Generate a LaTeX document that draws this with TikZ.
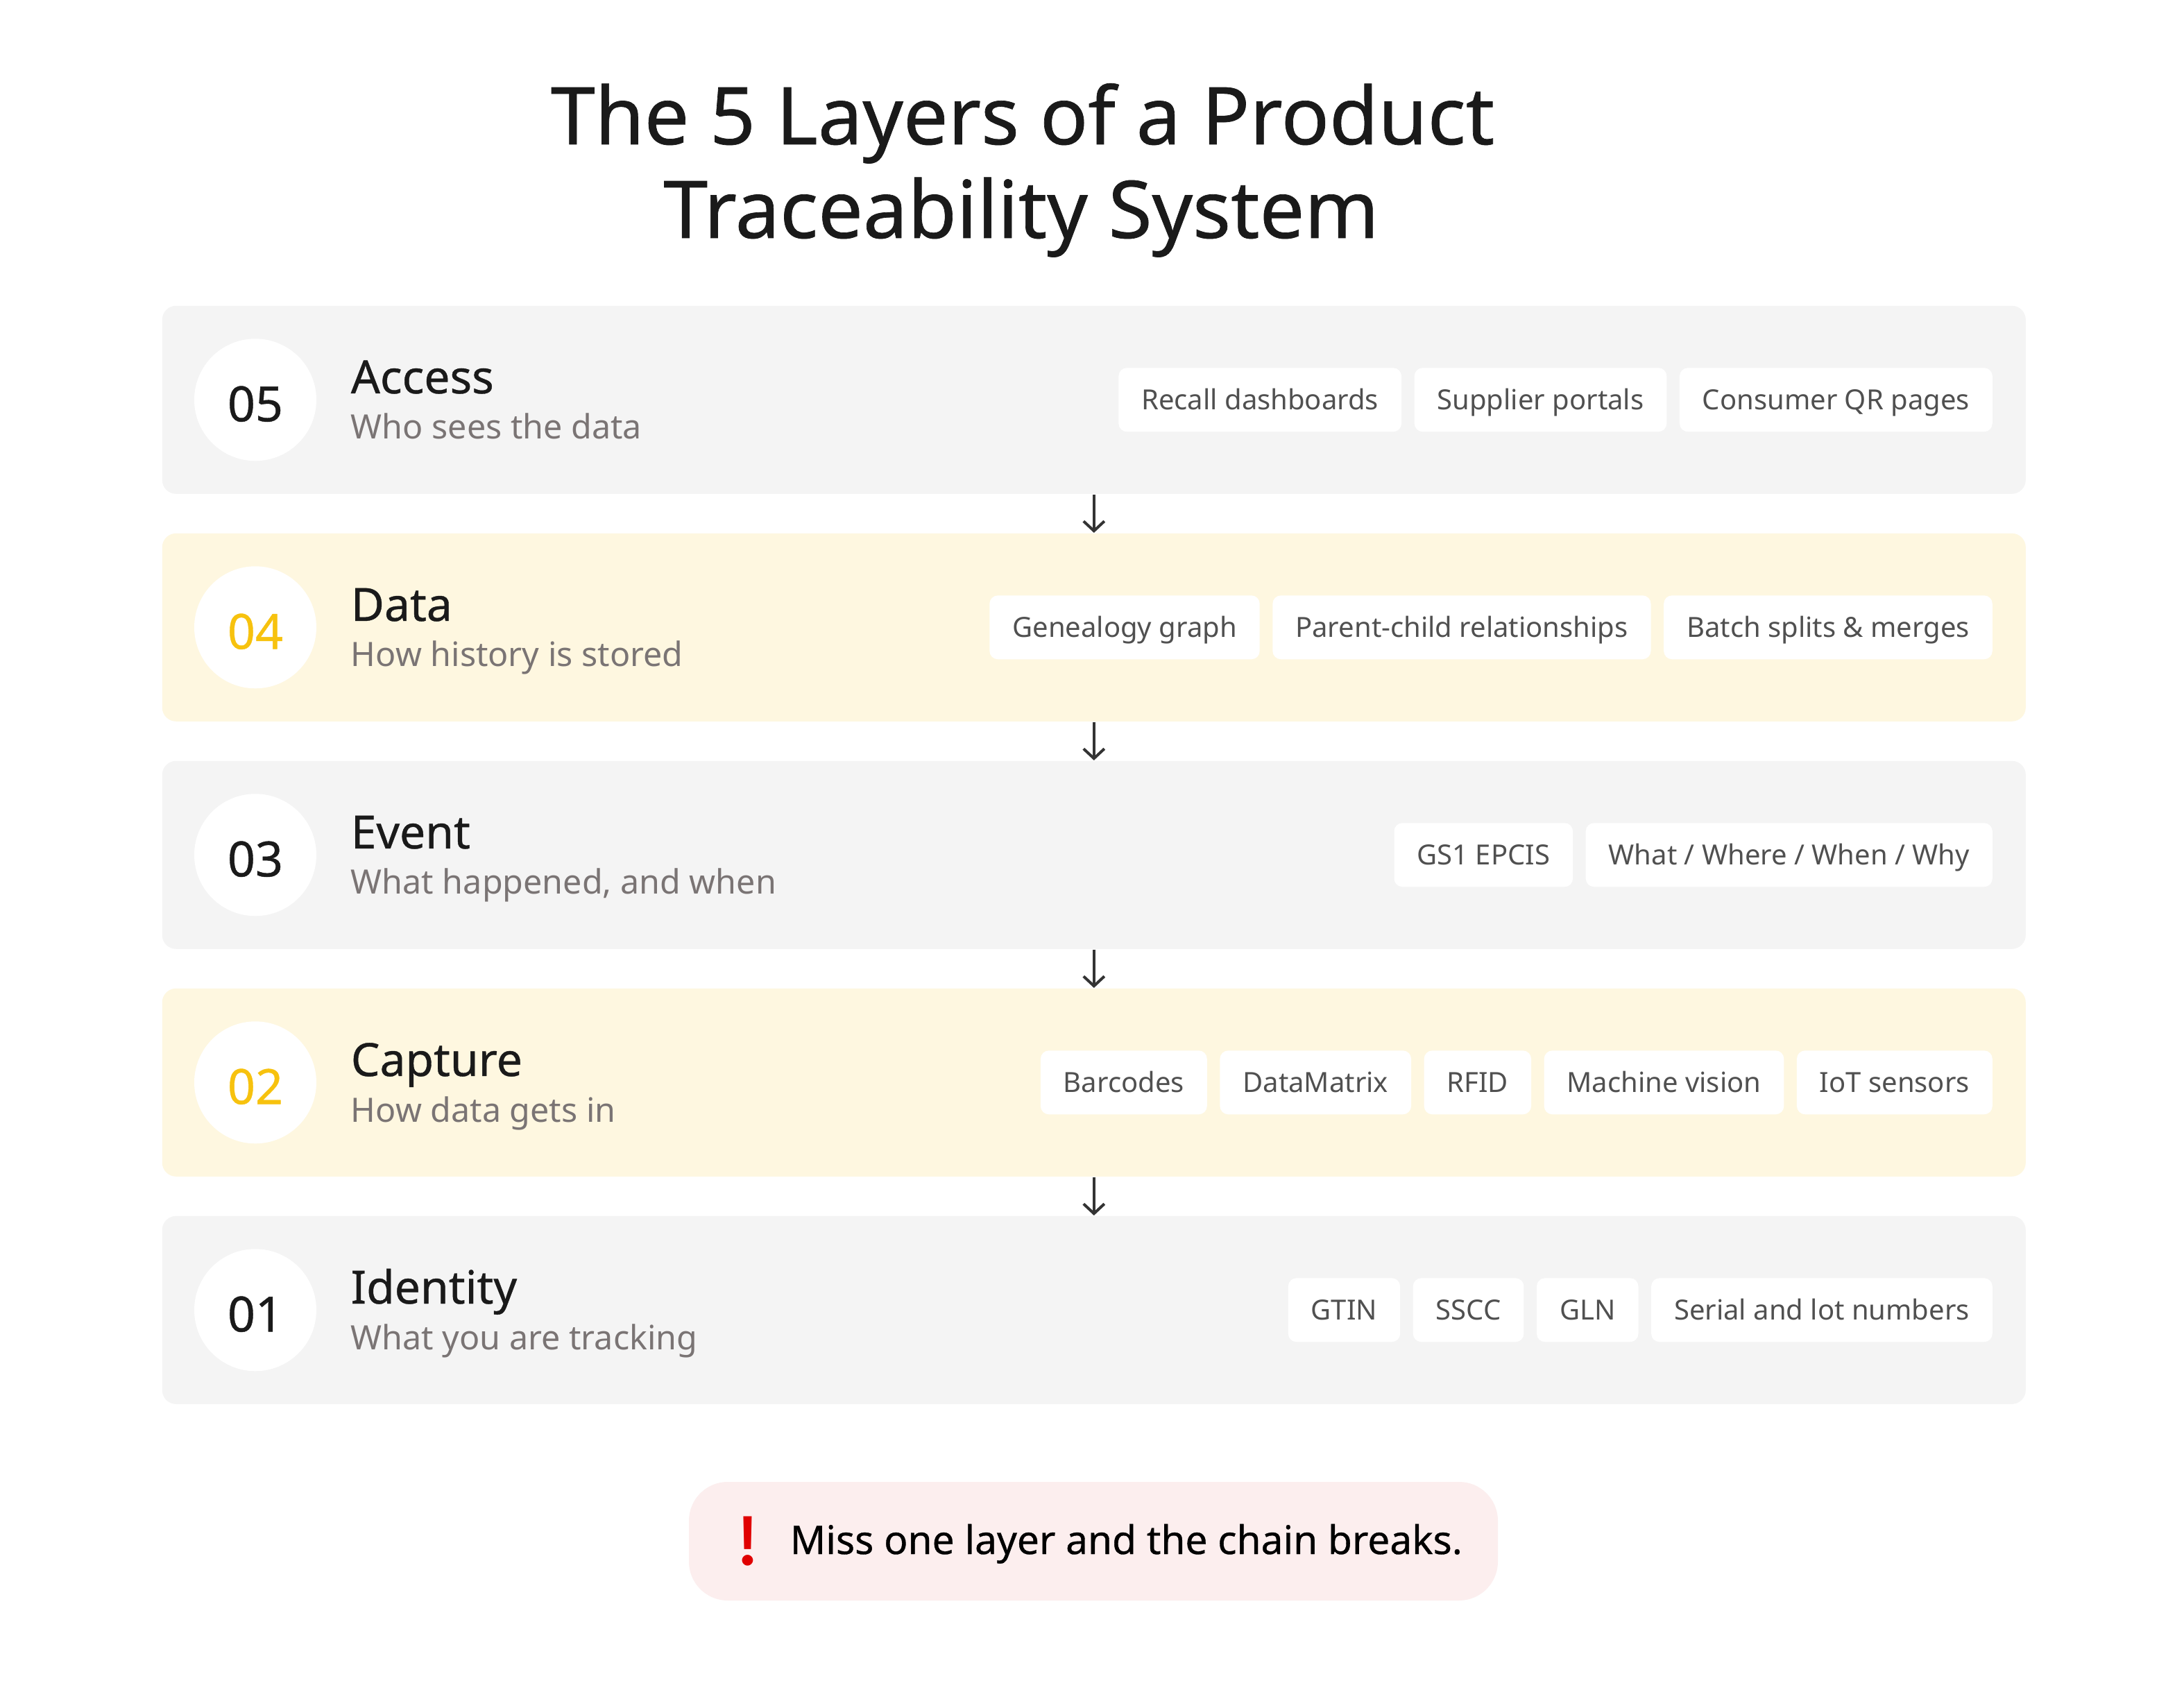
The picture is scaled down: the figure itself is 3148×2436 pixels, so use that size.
\documentclass[tikz,border=0pt]{standalone}
\usepackage{fontspec}
\setmainfont{Noto Sans}
\newfontface\medfont[FakeBold=0.6]{Noto Sans}
\newfontfamily\emojifont{Noto Emoji}
\usetikzlibrary{positioning,arrows.meta,calc}
\definecolor{rowgray}{HTML}{F4F4F4}
\definecolor{rowyellow}{HTML}{FEF7E0}
\definecolor{numyellow}{HTML}{F7C20E}
\definecolor{chiptext}{HTML}{505050}
\definecolor{subgray}{HTML}{7A7474}
\definecolor{alertbg}{HTML}{FCEEEE}
\definecolor{alertred}{HTML}{E00000}
\definecolor{ink}{HTML}{1A1A1A}
\definecolor{arrowgray}{HTML}{333333}
\begin{document}
\begin{tikzpicture}[x=0.25pt,y=-0.25pt,
  rowbox/.style={draw=none, rounded corners=5pt, minimum width=671.5pt, minimum height=67.75pt, inner sep=0pt, anchor=north west},
  numcircle/.style={circle, fill=white, minimum size=44pt, inner sep=0pt},
  numtext/.style={inner sep=0pt, font=\medfont\fontsize{17.5}{20}\selectfont, text=ink, yshift=-1.5pt},
  layertitle/.style={anchor=base west, inner sep=0pt, font=\medfont\fontsize{16.5}{20}\selectfont, text=ink},
  layersub/.style={anchor=base west, inner sep=0pt, font=\fontsize{12.1}{14}\selectfont, text=subgray},
  chip/.style={fill=white, rounded corners=3pt, minimum height=23pt, inner xsep=8.25pt, inner ysep=0pt, text height=7.2pt, text depth=0pt, font=\fontsize{10}{12}\selectfont, text=chiptext, anchor=east},
  arr/.style={draw=arrowgray, line width=1pt, -{Straight Barb[length=3.5pt,width=7.5pt]}},
  titletext/.style={anchor=base, inner sep=0pt, font=\medfont\fontsize{28.7}{34}\selectfont, text=ink}
]
\useasboundingbox (0,0) rectangle (3148,2436);
\fill[white] (0,0) rectangle (3148,2436);

% title
\node[titletext] (title1) at (1474,208) {The 5 Layers of a Product};
\node[titletext] (title2) at (1472,343) {Traceability System};

% row 05
\node[rowbox, fill=rowgray] (r5) at (233,440) {};
\node[numcircle] (n5) at ($(r5.west)+(135,0)$) {};
\node[numtext] (d5) at (n5) {05};
\node[layertitle] (t5) at ($(r5.north west)+(272,127)$) {Access};
\node[layersub] (s5) at ($(r5.north west)+(272,193)$) {Who sees the data};
\node[chip] (c53) at ($(r5.east)+(-48,0)$) {Consumer QR pages};
\node[chip, left=4.25pt of c53] (c52) {Supplier portals};
\node[chip, left=4.25pt of c52] (c51) {Recall dashboards};

% row 04
\node[rowbox, fill=rowyellow] (r4) at (233,768) {};
\node[numcircle] (n4) at ($(r4.west)+(135,0)$) {};
\node[numtext, text=numyellow] (d4) at (n4) {04};
\node[layertitle] (t4) at ($(r4.north west)+(272,127)$) {Data};
\node[layersub] (s4) at ($(r4.north west)+(272,193)$) {How history is stored};
\node[chip] (c43) at ($(r4.east)+(-48,0)$) {Batch splits \& merges};
\node[chip, left=4.25pt of c43] (c42) {Parent-child relationships};
\node[chip, left=4.25pt of c42] (c41) {Genealogy graph};

% row 03
\node[rowbox, fill=rowgray] (r3) at (233,1096) {};
\node[numcircle] (n3) at ($(r3.west)+(135,0)$) {};
\node[numtext] (d3) at (n3) {03};
\node[layertitle] (t3) at ($(r3.north west)+(272,127)$) {Event};
\node[layersub] (s3) at ($(r3.north west)+(272,193)$) {What happened, and when};
\node[chip] (c32) at ($(r3.east)+(-48,0)$) {What / Where / When / Why};
\node[chip, left=4.25pt of c32] (c31) {GS1 EPCIS};

% row 02
\node[rowbox, fill=rowyellow] (r2) at (233,1424) {};
\node[numcircle] (n2) at ($(r2.west)+(135,0)$) {};
\node[numtext, text=numyellow] (d2) at (n2) {02};
\node[layertitle] (t2) at ($(r2.north west)+(272,127)$) {Capture};
\node[layersub] (s2) at ($(r2.north west)+(272,193)$) {How data gets in};
\node[chip] (c25) at ($(r2.east)+(-48,0)$) {IoT sensors};
\node[chip, left=4.25pt of c25] (c24) {Machine vision};
\node[chip, left=4.25pt of c24] (c23) {RFID};
\node[chip, left=4.25pt of c23] (c22) {DataMatrix};
\node[chip, left=4.25pt of c22] (c21) {Barcodes};

% row 01
\node[rowbox, fill=rowgray] (r1) at (233,1752) {};
\node[numcircle] (n1) at ($(r1.west)+(135,0)$) {};
\node[numtext] (d1) at (n1) {01};
\node[layertitle] (t1) at ($(r1.north west)+(272,127)$) {Identity};
\node[layersub] (s1) at ($(r1.north west)+(272,193)$) {What you are tracking};
\node[chip] (c14) at ($(r1.east)+(-48,0)$) {Serial and lot numbers};
\node[chip, left=4.25pt of c14] (c13) {GLN};
\node[chip, left=4.25pt of c13] (c12) {SSCC};
\node[chip, left=4.25pt of c12] (c11) {GTIN};

% arrows
\draw[arr] (r5.south) -- (r4.north);
\draw[arr] (r4.south) -- (r3.north);
\draw[arr] (r3.south) -- (r2.north);
\draw[arr] (r2.south) -- (r1.north);

% alert
\node[fill=alertbg, rounded corners=14pt, minimum width=291.5pt, minimum height=42.75pt, inner sep=0pt] (alert) at (1576,2221.5) {};
\node[inner sep=0pt, text=alertred, font=\emojifont\fontsize{17.5}{20}\selectfont] (bang) at (1077.5,2222) {❗};
\node[anchor=base west, inner sep=0pt, text=black, font=\medfont\fontsize{14.2}{17}\selectfont] (alerttext) at (1138,2240) {Miss one layer and the chain breaks.};
\end{tikzpicture}
\end{document}
